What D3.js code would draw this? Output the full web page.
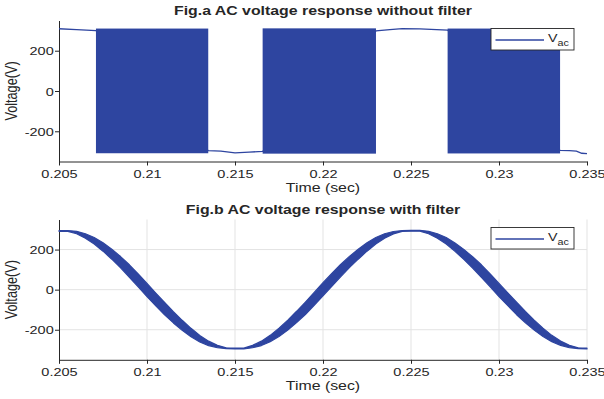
<!DOCTYPE html>
<html>
<head>
<meta charset="utf-8">
<script src="https://cdn.jsdelivr.net/npm/d3@7"></script>
<style>
  body { margin: 0; background: #fff; }
  svg { display: block; }
  text { font-family: "Liberation Sans", Arial, sans-serif; fill: #262626; }
</style>
</head>
<body>
<div id="chart"></div>
<script>
// axis ticks
let xTicks = [0.205, 0.21, 0.215, 0.22, 0.225, 0.23, 0.235];
let xTickLabels = ["0.205", "0.21", "0.215", "0.22", "0.225", "0.23", "0.235"];
let yTicks = [-200, 0, 200];
let yTickLabels = ["-200", "0", "200"];

// Fig.a - switching bursts (too dense to resolve, drawn as a filled band)
let burstStart = [0.2071, 0.21657, 0.22708];
let burstEnd = [0.21348, 0.22301, 0.23347];
let burstHigh = [310, 311, 310];
let burstLow = [-309, -311, -310];

// Fig.a - level held between the bursts
let holdT = [0.205, 0.2060, 0.2071, 0.21348, 0.2142, 0.2150, 0.2158, 0.21657,
             0.22301, 0.2238, 0.2245, 0.2255, 0.22708, 0.23347, 0.2340, 0.2344, 0.2347, 0.235];
let holdV = [309, 305, 300, -296, -298, -307, -303, -300,
             298, 305, 310, 308, 302, -295, -296, -298, -309, -311];

// Fig.b - filtered voltage, centre line and ripple half width
let filtT = [0.2050,0.2055,0.2060,0.2065,0.2070,0.2075,0.2080,0.2085,0.2090,0.2095,
             0.2100,0.2105,0.2110,0.2115,0.2120,0.2125,0.2130,0.2135,0.2140,0.2145,
             0.2150,0.2155,0.2160,0.2165,0.2170,0.2175,0.2180,0.2185,0.2190,0.2195,
             0.2200,0.2205,0.2210,0.2215,0.2220,0.2225,0.2230,0.2235,0.2240,0.2245,
             0.2250,0.2255,0.2260,0.2265,0.2270,0.2275,0.2280,0.2285,0.2290,0.2295,
             0.2300,0.2305,0.2310,0.2315,0.2320,0.2325,0.2330,0.2335,0.2340,0.2345,0.2350];
let filtV = [293,293,285,268,244,213,177,137,93,46,
             -2,-49,-95,-138,-178,-214,-245,-268,-284,-292,
             -294,-294,-284,-268,-244,-213,-177,-136,-93,-46,
             2,49,95,138,177,213,244,268,284,293,
             294,294,285,268,244,212,176,136,93,46,
             -2,-48,-94,-137,-177,-213,-244,-267,-284,-292,-294];
let rippleV = [2,2,6,11,16,21,25,28,31,32,
               33,32,31,28,25,21,16,11,6,2,
               2,2,6,11,16,21,25,28,31,32,
               33,32,31,28,25,21,16,11,6,2,
               2,2,6,11,16,21,25,28,31,32,
               33,32,31,28,25,21,16,11,6,2,2];

let lineColor = '#2e45a0',
    axisColor = '#262626',
    gridColor = '#e3e3e3';
let stretch = 1.25; // text in the picture is wider than tall

let width = 604, height = 399;
let svg = d3.select('#chart').append('svg')
    .attr('width', width)
    .attr('height', height);

let x = d3.scaleLinear().domain([0.205, 0.235]).range([59, 587]);

function drawPanel(top, bottom, title, withGrid) {
    let y = d3.scaleLinear().domain([-350, 350]).range([bottom, top]);
    let g = svg.append('g');

    if (withGrid) {
        g.append('g').selectAll('line').data(xTicks.slice(1)).enter().append('line')
            .attr('x1', d => x(d)).attr('x2', d => x(d))
            .attr('y1', top).attr('y2', bottom)
            .attr('stroke', gridColor).attr('stroke-width', 1);
        g.append('g').selectAll('line').data(yTicks).enter().append('line')
            .attr('x1', x.range()[0]).attr('x2', x.range()[1])
            .attr('y1', d => y(d)).attr('y2', d => y(d))
            .attr('stroke', gridColor).attr('stroke-width', 1);
    }

    let xAxis = g.append('g')
        .attr('transform', 'translate(0,' + bottom + ')')
        .call(d3.axisBottom(x).tickValues(xTicks)
            .tickFormat((d, i) => xTickLabels[i]).tickSize(4).tickSizeOuter(0));
    xAxis.selectAll('text')
        .attr('dy', null).attr('y', 16.5)
        .attr('transform', 'scale(' + stretch + ',1)')
        .style('font-size', '11.6px');

    let yAxis = g.append('g')
        .attr('transform', 'translate(' + x.range()[0] + ',0)')
        .call(d3.axisLeft(y).tickValues(yTicks)
            .tickFormat((d, i) => yTickLabels[i]).tickSize(4).tickSizeOuter(0));
    yAxis.selectAll('text')
        .attr('x', -4.2).attr('dy', '0.36em')
        .attr('transform', 'scale(' + stretch + ',1)')
        .style('font-size', '11.6px');

    g.selectAll('.domain, .tick line').attr('stroke', axisColor);
    g.selectAll('.tick text').attr('fill', axisColor);

    g.append('text')
        .attr('transform', 'translate(323,' + (top - 5.5) + ') scale(' + stretch + ',1)')
        .attr('text-anchor', 'middle')
        .style('font-size', '12.7px').style('font-weight', 'bold')
        .text(title);

    g.append('text')
        .attr('transform', 'translate(323,' + (bottom + 30.5) + ') scale(' + stretch + ',1)')
        .attr('text-anchor', 'middle')
        .style('font-size', '12.7px')
        .text('Time (sec)');

    g.append('text')
        .attr('transform', 'translate(16.5,' + y(0) + ') scale(' + stretch + ',1) rotate(-90)')
        .attr('text-anchor', 'middle')
        .style('font-size', '12.7px')
        .text('Voltage(V)');

    return {g: g, y: y};
}

function drawLegend(top) {
    let lg = svg.append('g').attr('transform', 'translate(491,' + top + ')');
    lg.append('rect')
        .attr('width', 83).attr('height', 21.5)
        .attr('fill', '#fff').attr('stroke', axisColor).attr('stroke-width', 0.9);
    lg.append('line')
        .attr('x1', 4.5).attr('x2', 53).attr('y1', 11.5).attr('y2', 11.5)
        .attr('stroke', lineColor).attr('stroke-width', 1.3);
    let t = lg.append('text')
        .attr('transform', 'translate(57,13) scale(' + stretch + ',1)')
        .style('font-size', '11.4px');
    t.append('tspan').text('V');
    t.append('tspan').attr('dy', 4.2).style('font-size', '8.6px').text('ac');
}

// Fig.a
let pa = drawPanel(20.5, 161.5, 'Fig.a AC voltage response without filter', false);
let holdData = holdT.map((t, i) => [t, holdV[i]]);
pa.g.append('path')
    .datum(holdData)
    .attr('d', d3.line().x(d => x(d[0])).y(d => pa.y(d[1])))
    .attr('fill', 'none').attr('stroke', lineColor).attr('stroke-width', 1.3);
pa.g.selectAll('.burst').data(burstStart).enter().append('rect')
    .attr('class', 'burst')
    .attr('x', (d, i) => x(d))
    .attr('width', (d, i) => x(burstEnd[i]) - x(d))
    .attr('y', (d, i) => pa.y(burstHigh[i]))
    .attr('height', (d, i) => pa.y(burstLow[i]) - pa.y(burstHigh[i]))
    .attr('fill', lineColor);
drawLegend(28.5);

// Fig.b
let pb = drawPanel(219.5, 359.8, 'Fig.b AC voltage response with filter', true);
let filtData = filtT.map((t, i) => ({t: t, v: filtV[i], r: rippleV[i]}));
pb.g.append('path')
    .datum(filtData)
    .attr('d', d3.area().x(d => x(d.t)).y0(d => pb.y(d.v - d.r)).y1(d => pb.y(d.v + d.r)))
    .attr('fill', lineColor).attr('stroke', lineColor).attr('stroke-width', 1.2)
    .attr('stroke-linejoin', 'round');
drawLegend(227.5);
</script>
</body>
</html>
